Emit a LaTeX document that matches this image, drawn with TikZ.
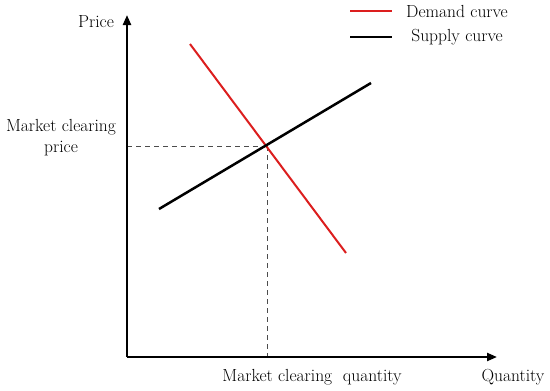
\documentclass[tikz,border=0pt]{standalone}
\usepackage{fontspec}
\setmainfont{Latin Modern Roman}
\usetikzlibrary{arrows.meta}
\begin{document}
\begin{tikzpicture}[x=1pt,y=-1pt,
  lbl/.style={font=\fontsize{17.5}{21}\selectfont, inner sep=0pt},
  axis/.style={line width=2.2pt, -{Triangle[length=10pt,width=8pt]}},
  demand/.style={line width=2pt, draw={rgb,255:red,220;green,30;blue,30}},
  supply/.style={line width=2.5pt, draw=black},
  guide/.style={line width=0.8pt, draw=black!70, dash pattern=on 5pt off 4pt}]
\useasboundingbox (0,0) rectangle (550,391);
\coordinate (o) at (127,357);
\coordinate (ytop) at (127,15);
\coordinate (xend) at (497,357);
\coordinate (d1) at (190,44);
\coordinate (d2) at (346,253);
\coordinate (s1) at (159,209);
\coordinate (s2) at (371,83);
\coordinate (eq) at (267,146);
\coordinate (py) at (127,146);
\coordinate (qx) at (267,357);
\draw[guide] (py) -- (eq);
\draw[guide] (eq) -- (qx);
\draw[axis] (o) -- (ytop);
\draw[axis] (o) -- (xend);
\draw[demand] (d1) -- (d2);
\draw[supply] (s1) -- (s2);
\node[lbl] (price) at (96,22) {Price};
\node[lbl, align=center] (mcp) at (61,138) {Market clearing\\price};
\node[lbl] (mcq) at (312,377) {Market clearing\ \ quantity};
\node[lbl] (qty) at (513,377) {Quantity};
\coordinate (l1a) at (350,11);
\coordinate (l1b) at (392,11);
\coordinate (l2a) at (350,37);
\coordinate (l2b) at (392,37);
\draw[demand] (l1a) -- (l1b);
\draw[supply] (l2a) -- (l2b);
\node[lbl] (dlab) at (457,11) {Demand curve};
\node[lbl] (slab) at (457,37) {Supply curve};
\end{tikzpicture}
\end{document}
